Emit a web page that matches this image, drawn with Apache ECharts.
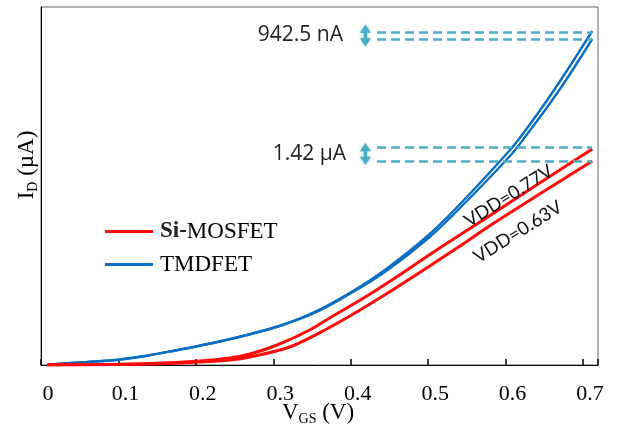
<!DOCTYPE html>
<html><head><meta charset="utf-8">
<script src="https://cdn.jsdelivr.net/npm/echarts@6/dist/echarts.min.js"></script>
<style>html,body{margin:0;padding:0;background:#fff}#c{width:617px;height:430px}</style>
</head><body><div id="c"></div>
<script>
// ---- data (y in arbitrary units) ----
const xTickLabels = ['0','0.1','0.2','0.3','0.4','0.5','0.6','0.7'];

const tmdHighX = [0.008,0.030,0.060,0.102,0.135,0.170,0.222,0.266,0.312,0.356,0.403,0.446,0.502,0.545,0.608,0.628,0.653,0.679,0.712];
const tmdHighY = [0,1.5,3,5.5,9,14,22,30,40,54,74,96,131,164,217,237,264,294,334];
const tmdLowX  = [0.008,0.030,0.060,0.102,0.135,0.170,0.222,0.266,0.312,0.356,0.403,0.446,0.502,0.545,0.608,0.628,0.653,0.679,0.712];
const tmdLowY  = [0,1.5,3,5.5,9,14,22,30,40,53,73,94,128,160,211,231,257,286,326];

const siHighX = [0.008,0.076,0.141,0.205,0.244,0.270,0.305,0.347,0.377,0.421,0.467,0.511,0.551,0.579,0.644,0.712];
const siHighY = [0,0.5,1.5,4,7,11,20,35,49,69,92,115,135,149,182,216];
const siLowX  = [0.008,0.076,0.141,0.205,0.244,0.270,0.321,0.369,0.412,0.454,0.502,0.551,0.579,0.644,0.712];
const siLowY  = [0,0.3,1,3,5,8,18,36,55,75,99,124,139,171,204];

const dashLevels = [333, 326, 218, 204];
const dashStartX = 0.434, dashEndX = 0.712;
const arrowX = 0.419;
const arrowYs = [329.5, 211];
const arrowLabels = ['942.5 nA', '1.42 µA'];
const vddLabels = ['VDD=0.77V', 'VDD=0.63V'];
const vddPos = [[0.604, 169], [0.616, 133]];

const zip = (xs, ys) => xs.map((x, i) => [x, ys[i]]);
const BLUE = '#0a6fc2', RED = '#ff0a0a', CYAN = '#4bacc6';

const chart = echarts.init(document.getElementById('c'), null, {renderer: 'canvas'});
const lineS = (name, data, color, w) => ({
  name, type: 'line', data, showSymbol: false, smooth: 0.3,
  lineStyle: {color, width: w}, itemStyle: {color}, z: 3, silent: true
});

const option = {
  animation: false,
  grid: {left: 41, right: 19, top: 7, bottom: 65, show: true, borderColor: '#666', borderWidth: 1, containLabel: false},
  xAxis: {
    type: 'value', min: 0, max: 0.7194, interval: 0.1,
    axisLine: {show: true, lineStyle: {color: '#000', width: 1}},
    axisTick: {show: true, inside: true, length: 6, lineStyle: {color: '#000', width: 1.5}},
    splitLine: {show: false},
    axisLabel: {
      color: '#000', fontFamily: 'Liberation Serif', fontSize: 22, margin: 18, padding: [0,0,0,14],
      formatter: v => { const i = Math.round(v * 10); return Math.abs(v * 10 - i) < 1e-6 && i < xTickLabels.length ? xTickLabels[i] : ''; }
    }
  },
  yAxis: {
    type: 'value', min: 0, max: 358,
    axisLine: {show: true, lineStyle: {color: '#000', width: 1}},
    axisTick: {show: false}, axisLabel: {show: false}, splitLine: {show: false}
  },
  legend: {
    orient: 'vertical', left: 100, top: 215, itemWidth: 48, itemHeight: 3, itemGap: 10, icon: 'rect',
    data: ['Si-MOSFET', 'TMDFET'],
    formatter: n => n === 'Si-MOSFET' ? '{b|Si-}{n|MOSFET}' : '{n|' + n + '}',
    textStyle: {
      color: '#000', fontFamily: 'Liberation Serif', fontSize: 23, padding: [0,0,0,2],
      rich: {b: {fontFamily: 'Liberation Serif', fontSize: 23, fontWeight: 'bold', color: '#222'},
             n: {fontFamily: 'Liberation Serif', fontSize: 23, color: '#000'}}
    }
  },
  graphic: [
    {type: 'text', x: 27, y: 165, rotation: Math.PI / 2,
     style: {text: '{a|I}{s|D}{a| (µA)}', align: 'center', verticalAlign: 'middle',
       rich: {a: {fontFamily: 'Liberation Serif', fontSize: 23, fill: '#000', lineHeight: 26},
              s: {fontFamily: 'Liberation Serif', fontSize: 14, fill: '#000', verticalAlign: 'bottom', lineHeight: 14, padding: [8,0,0,0]}}}},
    {type: 'text', x: 318, y: 413,
     style: {text: '{a|V}{s|GS}{a| (V)}', align: 'center', verticalAlign: 'middle',
       rich: {a: {fontFamily: 'Liberation Serif', fontSize: 23, fill: '#000', lineHeight: 26},
              s: {fontFamily: 'Liberation Serif', fontSize: 14, fill: '#000', verticalAlign: 'bottom', lineHeight: 14, padding: [8,0,0,0]}}}}
  ],
  series: [
    lineS('TMDFET', zip(tmdHighX, tmdHighY), BLUE, 2.4),
    lineS('TMDFET', zip(tmdLowX, tmdLowY), BLUE, 2.4),
    lineS('Si-MOSFET', zip(siHighX, siHighY), RED, 3),
    lineS('Si-MOSFET', zip(siLowX, siLowY), RED, 3),
    {
      name: 'annot', type: 'scatter', data: [], silent: true, z: 2,
      markLine: {
        silent: true, symbol: ['none', 'none'], animation: false,
        lineStyle: {color: CYAN, width: 2.5, type: [9, 5]},
        label: {show: false},
        data: dashLevels.map(y => [{coord: [dashStartX, y]}, {coord: [dashEndX, y]}])
      },
      markPoint: {
        silent: true, animation: false,
        data: [
          ...arrowYs.map((y, i) => ({
            coord: [arrowX, y], symbol: 'path://M5,0 L10,9 L6.5,9 L6.5,15 L10,15 L5,24 L0,15 L3.5,15 L3.5,9 L0,9 Z',
            symbolSize: [11, 22], itemStyle: {color: CYAN, shadowBlur: 3, shadowColor: 'rgba(75,172,198,0.6)'},
            label: {show: true, position: 'left', distance: i === 0 ? 17 : 14, formatter: arrowLabels[i],
                    color: '#222', fontFamily: 'Open Sans', fontSize: 21}
          })),
          ...vddLabels.map((t, i) => ({
            coord: vddPos[i], symbolSize: 0, symbol: 'circle',
            label: {show: true, position: 'inside', rotate: 32, formatter: t, color: '#111', fontFamily: 'Lato', fontSize: 18.5}
          }))
        ]
      }
    }
  ]
};
chart.setOption(option);
</script></body></html>
